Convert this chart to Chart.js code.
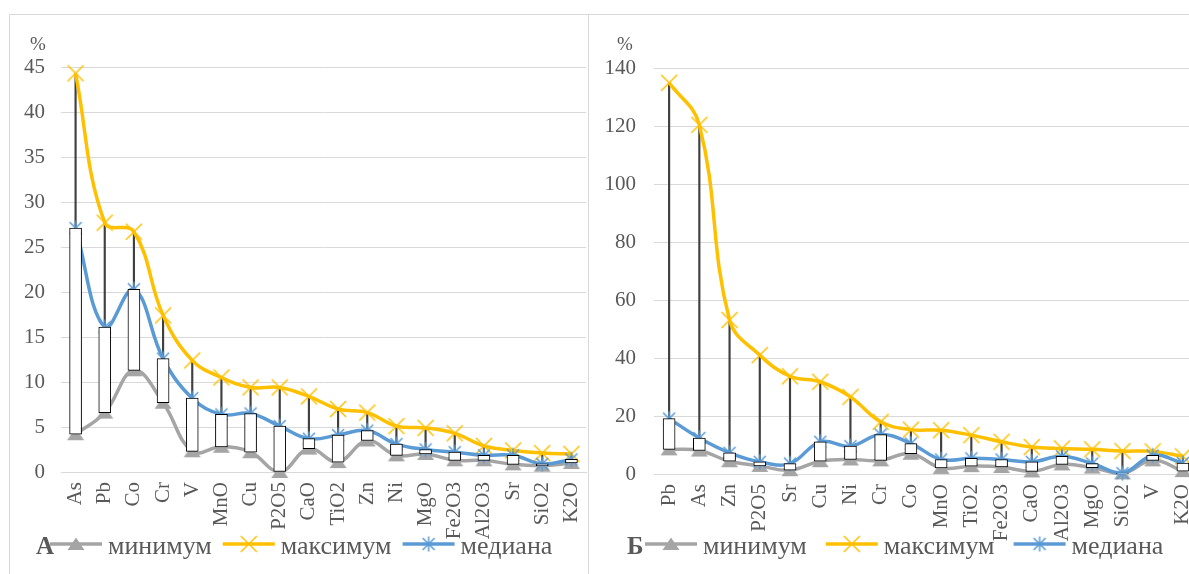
<!DOCTYPE html>
<html>
<head>
<meta charset="utf-8">
<script src="https://cdn.jsdelivr.net/npm/chart.js@4.4.1/dist/chart.umd.min.js"></script>
<style>
  body { margin: 0; width: 1189px; height: 574px; overflow: hidden; background: #fff; position: relative; }
  .frame { position: absolute; top: 14px; height: 600px; border: 1px solid #d9d9d9; border-bottom: none; }
  #frameA { left: 9px; width: 578px; }
  #frameB { left: 588px; width: 700px; }
  canvas { position: absolute; top: 0; }
  #chartA { left: 0; }
  #chartB { left: 590px; }
</style>
</head>
<body>
<div class="frame" id="frameA"></div>
<div class="frame" id="frameB"></div>
<canvas id="chartA" width="590" height="574"></canvas>
<canvas id="chartB" width="612" height="574"></canvas>
<script>
// серии
const seriesNames = ['минимум', 'максимум', 'медиана'];

// панель А
const catsA = ['As', 'Pb', 'Co', 'Cr', 'V', 'MnO', 'Cu', 'P2O5', 'CaO', 'TiO2', 'Zn', 'Ni', 'MgO', 'Fe2O3', 'Al2O3', 'Sr', 'SiO2', 'K2O'];
const minA = [4.2, 6.6, 11.3, 7.7, 2.3, 2.8, 2.2, 0, 2.6, 1.1, 3.5, 1.85, 2.0, 1.3, 1.3, 0.85, 0.7, 1.0];
const maxA = [44.3, 27.7, 26.7, 17.4, 12.4, 10.5, 9.4, 9.4, 8.4, 7.0, 6.6, 5.1, 4.9, 4.3, 2.9, 2.4, 2.1, 2.0];
const medA = [27.1, 16.1, 20.3, 12.6, 8.2, 6.4, 6.5, 5.1, 3.7, 4.1, 4.6, 3.1, 2.5, 2.2, 1.85, 1.85, 0.9, 1.4];

// панель Б
const catsB = ['Pb', 'As', 'Zn', 'P2O5', 'Sr', 'Cu', 'Ni', 'Cr', 'Co', 'MnO', 'TiO2', 'Fe2O3', 'CaO', 'Al2O3', 'MgO', 'SiO2', 'V', 'K2O'];
const minB = [8.5, 8.1, 4.4, 2.8, 1.3, 4.4, 5.0, 4.7, 7.0, 2.1, 2.7, 2.4, 0.9, 3.3, 2.2, 0.2, 4.7, 1.0];
const maxB = [134.9, 120.4, 53.1, 41.0, 33.7, 31.8, 26.6, 18.0, 15.3, 15.1, 13.4, 11.1, 9.3, 8.8, 8.5, 7.9, 7.8, 6.1];
const medB = [19.1, 12.4, 7.3, 4.2, 3.6, 11.1, 9.6, 13.6, 10.5, 5.0, 5.4, 5.0, 4.2, 6.1, 3.6, 0.3, 6.4, 3.8];

const ticksA = { max: 45, step: 5 };
const ticksB = { max: 140, step: 20 };

const FONT = '"Liberation Serif", "Times New Roman", serif';
const TEXT = '#595959';
const colors = ['#A5A5A5', '#FFC000', '#5B9BD5'];

// маркеры как в Excel
function makeMarker(kind, color) {
  const c = document.createElement('canvas');
  c.width = 20; c.height = 20;
  const g = c.getContext('2d');
  g.strokeStyle = color; g.fillStyle = color; g.lineWidth = 1.5;
  g.beginPath();
  if (kind === 'tri') {
    g.moveTo(10, 3.5); g.lineTo(18.5, 16); g.lineTo(1.5, 16); g.closePath(); g.fill();
  } else if (kind === 'x') {
    g.moveTo(2, 2); g.lineTo(18, 18); g.moveTo(18, 2); g.lineTo(2, 18); g.stroke();
  } else {
    g.moveTo(4, 4); g.lineTo(16, 16); g.moveTo(16, 4); g.lineTo(4, 16);
    g.moveTo(10, 2.5); g.lineTo(10, 17.5); g.stroke();
  }
  return c;
}
const markers = [makeMarker('tri', colors[0]), makeMarker('x', colors[1]), makeMarker('star', colors[2])];

const decor = {
  id: 'decor',
  afterDraw(chart, args, o) {
    const ctx = chart.ctx;
    ctx.save();
    ctx.fillStyle = TEXT;
    ctx.font = '19px ' + FONT;
    ctx.textAlign = 'center';
    ctx.fillText('%', o.pctX, 50);

    const y = 544;
    ctx.textAlign = 'left';
    ctx.font = 'bold 25px ' + FONT;
    ctx.fillText(o.letter, o.letterX, 554);
    let x = o.itemX;
    ctx.font = '26px ' + FONT;
    seriesNames.forEach((name, k) => {
      ctx.strokeStyle = colors[k];
      ctx.lineWidth = 3.5;
      ctx.beginPath(); ctx.moveTo(x, y); ctx.lineTo(x + 52, y); ctx.stroke();
      ctx.drawImage(markers[k], x + 26 - 10, y - 10);
      ctx.fillText(name, x + 58, 554);
      x += 58 + ctx.measureText(name).width + o.gap;
    });
    ctx.restore();
  }
};

function lineSet(k, values, order) {
  return {
    type: 'line', label: seriesNames[k], data: values, order: order,
    borderColor: colors[k], borderWidth: 3.5, tension: 0.4,
    pointStyle: markers[k], pointRadius: 1, pointBorderWidth: 0, clip: false
  };
}

function buildPanel(id, cats, mins, maxs, meds, yt, lay) {
  new Chart(document.getElementById(id), {
    type: 'bar',
    data: {
      labels: cats,
      datasets: [
        { type: 'bar', label: 'hl', data: cats.map((c, i) => [mins[i], maxs[i]]), backgroundColor: '#404040',
          barThickness: 1.5, grouped: false, order: 5 },
        lineSet(0, mins, 4),
        lineSet(1, maxs, 3),
        lineSet(2, meds, 2),
        { type: 'bar', label: 'box', data: cats.map((c, i) => [mins[i], meds[i]]), backgroundColor: '#ffffff',
          borderColor: '#000000', borderWidth: 1, borderSkipped: false, barThickness: 12, grouped: false, order: 0 }
      ]
    },
    options: {
      responsive: false,
      animation: false,
      events: [],
      layout: { padding: { top: lay.top, right: 0, bottom: 0, left: 0 } },
      plugins: { legend: { display: false }, tooltip: { enabled: false }, decor: lay.decor },
      scales: {
        x: {
          offset: true,
          grid: { display: false, drawTicks: false },
          border: { color: '#d9d9d9' },
          ticks: { color: TEXT, font: { family: FONT, size: 21 }, minRotation: 90, maxRotation: 90, autoSkip: false, padding: 10 },
          afterFit(s) { s.height = lay.xh; s.paddingLeft = 0; s.paddingRight = 0; }
        },
        y: {
          min: 0, max: yt.max,
          grid: { color: '#d9d9d9', drawTicks: false },
          border: { display: false },
          ticks: { stepSize: yt.step, color: TEXT, font: { family: FONT, size: 21 }, padding: lay.yPad },
          afterFit(s) { s.width = lay.yw; s.paddingTop = 0; s.paddingBottom = 0; }
        }
      }
    },
    plugins: [decor]
  });
}

buildPanel('chartA', catsA, minA, maxA, medA, ticksA,
  { top: 67, xh: 102, yw: 61, yPad: 16, decor: { letter: 'А', letterX: 36, itemX: 50, gap: 11, pctX: 38 } });
buildPanel('chartB', catsB, minB, maxB, medB, ticksB,
  { top: 68, xh: 100, yw: 64, yPad: 18, decor: { letter: 'Б', letterX: 37, itemX: 55, gap: 19, pctX: 35 } });
</script>
</body>
</html>
